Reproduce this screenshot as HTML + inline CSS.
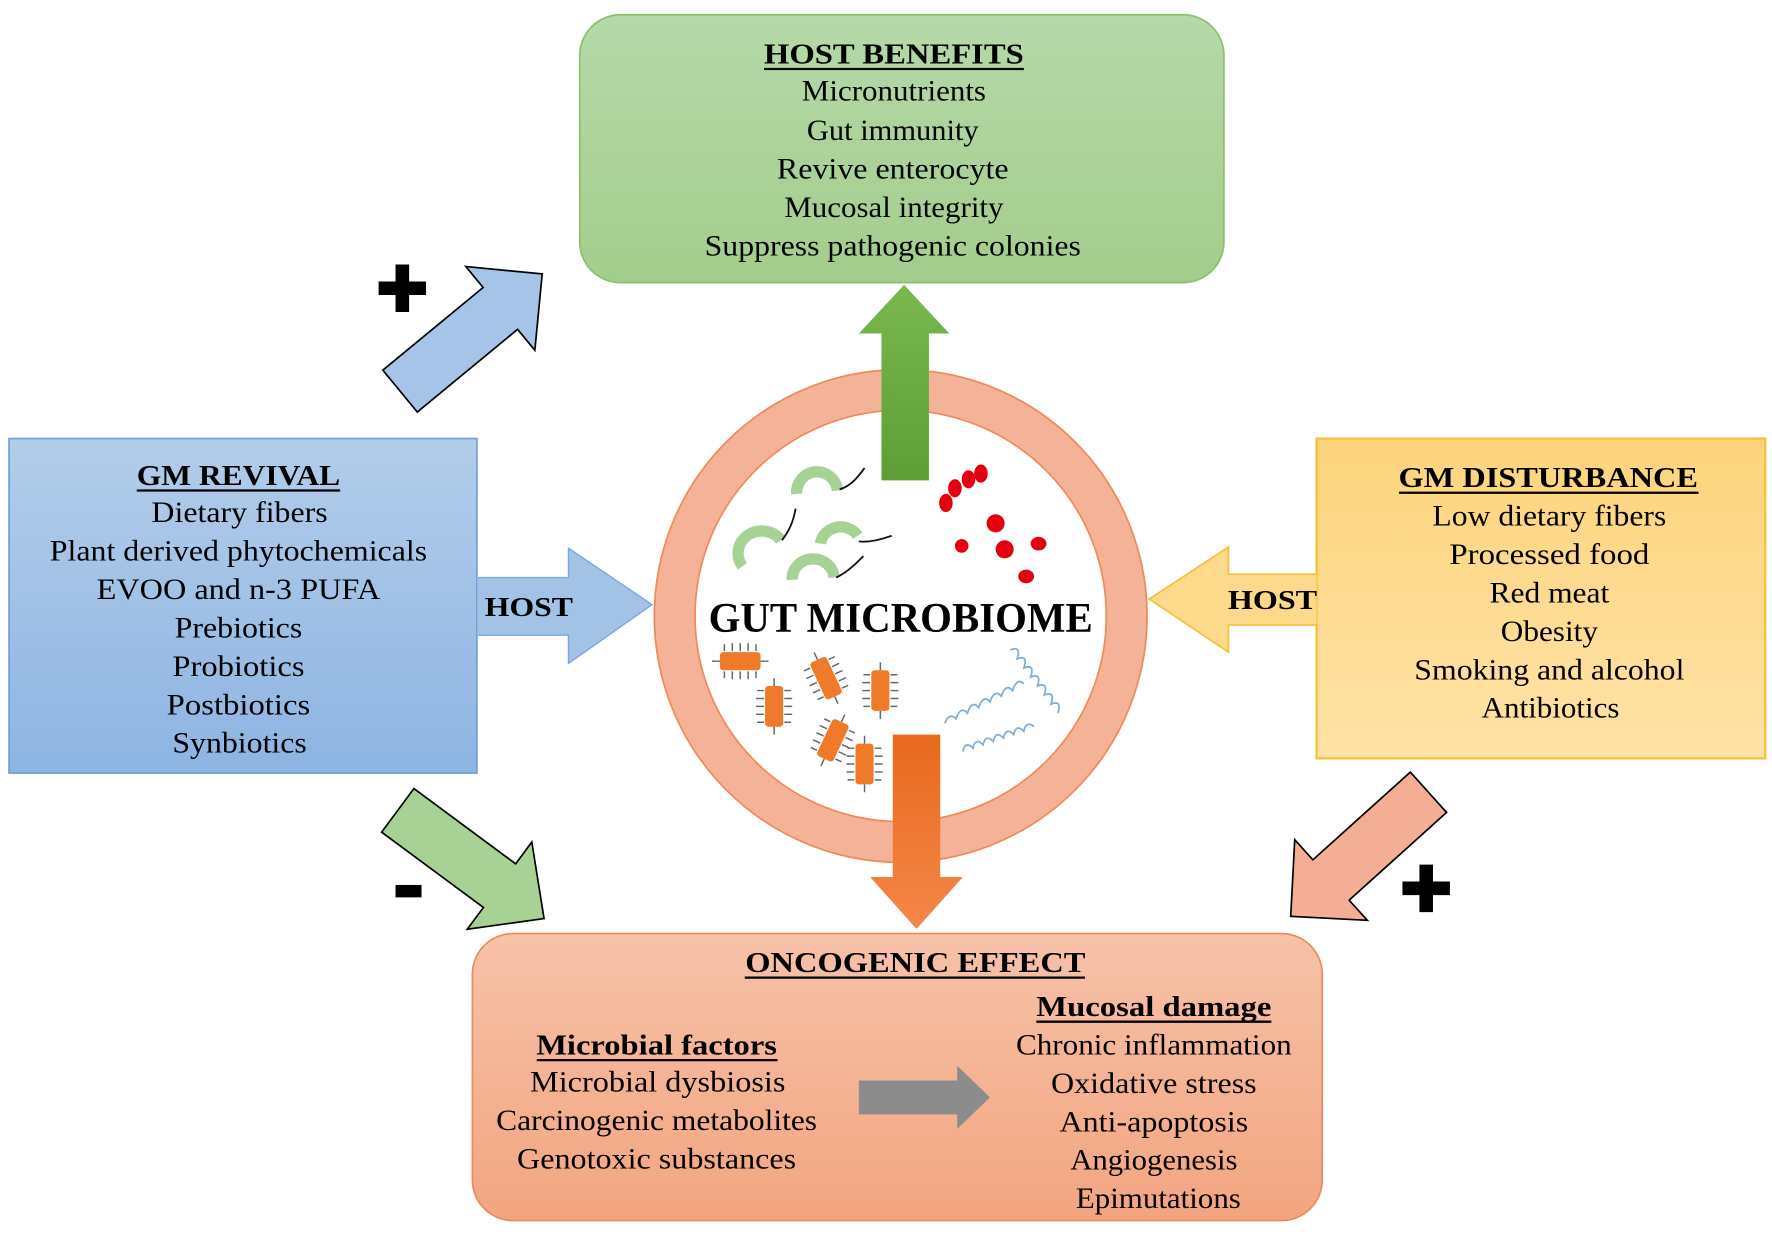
<!DOCTYPE html>
<html><head><meta charset="utf-8"><style>
html,body{margin:0;padding:0;background:#fff;}
svg{display:block;}
text{font-family:"Liberation Serif",serif;fill:#000;}
</style></head><body>
<svg width="1772" height="1241" viewBox="0 0 1568 1098" xmlns="http://www.w3.org/2000/svg">
<defs>
<linearGradient id="gG" x1="0" y1="0" x2="0" y2="1"><stop offset="0" stop-color="#b6d9a9"/><stop offset="1" stop-color="#a3cd8c"/></linearGradient>
<linearGradient id="gB" x1="0" y1="0" x2="0" y2="1"><stop offset="0" stop-color="#b3cdea"/><stop offset="1" stop-color="#8db4e2"/></linearGradient>
<linearGradient id="gY" x1="0" y1="0" x2="0" y2="1"><stop offset="0" stop-color="#fdd47c"/><stop offset="1" stop-color="#fee2a6"/></linearGradient>
<linearGradient id="gS" x1="0" y1="0" x2="0" y2="1"><stop offset="0" stop-color="#f7c2a9"/><stop offset="1" stop-color="#f2a57f"/></linearGradient>
<linearGradient id="gUp" x1="0" y1="1" x2="0" y2="0"><stop offset="0" stop-color="#5d9e36"/><stop offset="1" stop-color="#7ab84f"/></linearGradient>
<linearGradient id="gDn" x1="0" y1="0" x2="0" y2="1"><stop offset="0" stop-color="#e8691d"/><stop offset="1" stop-color="#f5874a"/></linearGradient>
<g id="rod">
<path d="M-14,-9 v-6 M-7,-9 v-7 M0,-9 v-7 M7,-9 v-7 M14,-9 v-6 M-14,9 v6 M-7,9 v7 M0,9 v7 M7,9 v7 M14,9 v6 M-18,0 h-7 M18,0 h7" stroke="#666" stroke-width="1.3"/>
<rect x="-18" y="-8" width="36" height="16" rx="3" fill="#ef7a2a"/>
</g>
</defs>

<!-- HOST BENEFITS box -->
<rect x="513" y="13" width="570" height="237" rx="36" fill="url(#gG)" stroke="#8cbf6c" stroke-width="1.5"/>
<text x="791" y="56" font-size="25" font-weight="bold" text-anchor="middle" textLength="230" lengthAdjust="spacingAndGlyphs">HOST BENEFITS</text>
<line x1="676" y1="61" x2="906" y2="61" stroke="#000" stroke-width="2"/>
<g font-size="26" text-anchor="middle">
<text x="791" y="89" textLength="163" lengthAdjust="spacingAndGlyphs">Micronutrients</text>
<text x="790" y="124" textLength="152" lengthAdjust="spacingAndGlyphs">Gut immunity</text>
<text x="790" y="158" textLength="205" lengthAdjust="spacingAndGlyphs">Revive enterocyte</text>
<text x="791" y="192" textLength="194" lengthAdjust="spacingAndGlyphs">Mucosal integrity</text>
<text x="790" y="226" textLength="333" lengthAdjust="spacingAndGlyphs">Suppress pathogenic colonies</text>
</g>

<!-- GM REVIVAL box -->
<rect x="8" y="388" width="414" height="296" fill="url(#gB)" stroke="#6e9fd6" stroke-width="1.5"/>
<text x="211" y="429" font-size="25" font-weight="bold" text-anchor="middle" textLength="180" lengthAdjust="spacingAndGlyphs">GM REVIVAL</text>
<line x1="121" y1="434" x2="301" y2="434" stroke="#000" stroke-width="2"/>
<g font-size="26" text-anchor="middle">
<text x="212" y="462" textLength="156" lengthAdjust="spacingAndGlyphs">Dietary fibers</text>
<text x="211" y="496" textLength="334" lengthAdjust="spacingAndGlyphs">Plant derived phytochemicals</text>
<text x="211" y="530" textLength="251" lengthAdjust="spacingAndGlyphs">EVOO and n-3 PUFA</text>
<text x="211" y="564" textLength="113" lengthAdjust="spacingAndGlyphs">Prebiotics</text>
<text x="211" y="598" textLength="117" lengthAdjust="spacingAndGlyphs">Probiotics</text>
<text x="211" y="632" textLength="127" lengthAdjust="spacingAndGlyphs">Postbiotics</text>
<text x="212" y="666" textLength="119" lengthAdjust="spacingAndGlyphs">Synbiotics</text>
</g>

<!-- HOST arrow right -->
<polygon points="423,511 503,511 503,485 577,535 503,587 503,562 423,562" fill="#a2c2e6"/>
<polyline points="423,511 503,511 503,485 577,535 503,587 503,562 423,562" fill="none" stroke="#7aa7db" stroke-width="1.2"/>
<text x="468" y="545" font-size="24" font-weight="bold" text-anchor="middle" textLength="78" lengthAdjust="spacingAndGlyphs">HOST</text>

<!-- GM DISTURBANCE box -->
<rect x="1165" y="388" width="397" height="283" fill="url(#gY)" stroke="#f2c23d" stroke-width="2"/>
<text x="1370" y="431" font-size="25" font-weight="bold" text-anchor="middle" textLength="265" lengthAdjust="spacingAndGlyphs">GM DISTURBANCE</text>
<line x1="1238" y1="436" x2="1503" y2="436" stroke="#000" stroke-width="2"/>
<g font-size="26" text-anchor="middle">
<text x="1371" y="465" textLength="207" lengthAdjust="spacingAndGlyphs">Low dietary fibers</text>
<text x="1371" y="499" textLength="177" lengthAdjust="spacingAndGlyphs">Processed food</text>
<text x="1371" y="533" textLength="106" lengthAdjust="spacingAndGlyphs">Red meat</text>
<text x="1371" y="567" textLength="86" lengthAdjust="spacingAndGlyphs">Obesity</text>
<text x="1371" y="601" textLength="239" lengthAdjust="spacingAndGlyphs">Smoking and alcohol</text>
<text x="1372" y="635" textLength="122" lengthAdjust="spacingAndGlyphs">Antibiotics</text>
</g>

<!-- HOST arrow left -->
<polygon points="1165,508 1087,508 1087,484 1017,530 1087,577 1087,553 1165,553" fill="#fdd98c"/>
<polyline points="1165,508 1087,508 1087,484 1017,530 1087,577 1087,553 1165,553" fill="none" stroke="#f2c23d" stroke-width="1.5"/>
<text x="1126" y="539" font-size="24" font-weight="bold" text-anchor="middle" textLength="79" lengthAdjust="spacingAndGlyphs">HOST</text>

<!-- Circle -->
<circle cx="797" cy="545" r="200" fill="none" stroke="#f4b398" stroke-width="36"/>
<circle cx="797" cy="545" r="218" fill="none" stroke="#ec8a5b" stroke-width="1.5"/>
<circle cx="797" cy="545" r="182" fill="#fff" stroke="#ec8a5b" stroke-width="1.5"/>

<!-- green bacteria -->
<g fill="none">
<g stroke="#a6d296" stroke-width="10">
<path d="M705,437 A18,18 0 0 1 741,434"/>
<path d="M726,481 A18,17 0 0 1 759,474"/>
<path d="M657,501 A18,17 0 0 1 691,478"/>
<path d="M701,513 A18,17 0 0 1 738,511"/>
</g>
<g stroke="#111" stroke-width="1.6">
<path d="M743,433 C752,430 758,424 765,414"/>
<path d="M760,479 C768,480 778,478 789,474"/>
<path d="M692,478 C698,470 702,462 704,450"/>
<path d="M740,511 C750,506 756,500 764,492"/>
</g>
</g>
<!-- red cocci -->
<g fill="#e5000f">
<ellipse cx="837" cy="445" rx="6" ry="8"/>
<ellipse cx="845" cy="432" rx="6" ry="8"/>
<ellipse cx="857" cy="424" rx="6" ry="8"/>
<ellipse cx="868" cy="419" rx="6" ry="8"/>
<ellipse cx="881" cy="463" rx="8" ry="8"/>
<ellipse cx="851" cy="483" rx="6" ry="6"/>
<ellipse cx="889" cy="486" rx="8" ry="8"/>
<ellipse cx="919" cy="481" rx="7" ry="6"/>
<ellipse cx="908" cy="510" rx="7" ry="6"/>
</g>
<!-- orange rods -->
<use href="#rod" transform="translate(655,585)"/>
<use href="#rod" transform="translate(685,625) rotate(90)"/>
<use href="#rod" transform="translate(731,600) rotate(65)"/>
<use href="#rod" transform="translate(779,611) rotate(90)"/>
<use href="#rod" transform="translate(737,655) rotate(-65)"/>
<use href="#rod" transform="translate(765,676) rotate(90)"/>
<!-- blue spirochetes -->
<g fill="none" stroke="#7fb0d8" stroke-width="1.6">
<path d="M836,640 q4,-10 10,-4 q4,-12 10,-5 q4,-12 10,-5 q4,-12 10,-5 q4,-12 10,-5 q4,-12 10,-5 q4,-12 10,-6"/>
<path d="M894,575 q10,-4 6,8 q10,-4 6,8 q10,-4 6,8 q10,-4 6,8 q10,-4 6,8 q10,-4 6,8 q10,-4 6,8"/>
<path d="M852,665 q2,-10 9,-3 q2,-10 9,-3 q2,-10 9,-3 q2,-10 9,-3 q2,-10 9,-3 q2,-10 9,-3 q2,-10 9,-4"/>
</g>

<text x="797" y="559" font-size="37" font-weight="bold" text-anchor="middle" textLength="340" lengthAdjust="spacingAndGlyphs">GUT MICROBIOME</text>

<!-- green up arrow -->
<polygon points="780,425 780,295 760,295 800,252 840,295 822,295 822,425" fill="url(#gUp)"/>
<!-- orange down arrow -->
<polygon points="790,650 790,776 770,776 811,822 852,776 832,776 832,650" fill="url(#gDn)"/>

<!-- diagonal arrows -->
<g transform="translate(354,346) rotate(-39.5)">
<polygon points="0,-24 115,-24 115,-48 163,0 115,48 115,24 0,24" fill="#a6c4e8" stroke="#000" stroke-width="1.5"/>
</g>
<g transform="translate(352,717) rotate(36.5)">
<polygon points="0,-24 112,-24 112,-48 161,0 112,48 112,24 0,24" fill="#a8d195" stroke="#000" stroke-width="1.5"/>
</g>
<g transform="translate(1264,701) rotate(138)">
<polygon points="0,-24 116,-24 116,-48 164,0 116,48 116,24 0,24" fill="#f4ae95" stroke="#000" stroke-width="1.5"/>
</g>

<!-- plus / minus -->
<path d="M350,234 h12 v15 h15 v12 h-15 v15 h-12 v-15 h-15 v-12 h15 z" fill="#000"/>
<path d="M1256,765 h12 v15 h15 v12 h-15 v15 h-12 v-15 h-15 v-12 h15 z" fill="#000"/>
<rect x="350" y="783" width="23" height="11" fill="#000"/>

<!-- ONCOGENIC box -->
<rect x="418" y="826" width="752" height="254" rx="36" fill="url(#gS)" stroke="#e98a5f" stroke-width="1.5"/>
<text x="810" y="860" font-size="25" font-weight="bold" text-anchor="middle" textLength="301" lengthAdjust="spacingAndGlyphs">ONCOGENIC EFFECT</text>
<line x1="659" y1="865" x2="960" y2="865" stroke="#000" stroke-width="2"/>
<text x="581" y="933" font-size="25" font-weight="bold" text-anchor="middle" textLength="213" lengthAdjust="spacingAndGlyphs">Microbial factors</text>
<line x1="475" y1="938" x2="688" y2="938" stroke="#000" stroke-width="2"/>
<text x="1021" y="899" font-size="25" font-weight="bold" text-anchor="middle" textLength="208" lengthAdjust="spacingAndGlyphs">Mucosal damage</text>
<line x1="917" y1="904" x2="1125" y2="904" stroke="#000" stroke-width="2"/>
<g font-size="26" text-anchor="middle">
<text x="582" y="966" textLength="226" lengthAdjust="spacingAndGlyphs">Microbial dysbiosis</text>
<text x="581" y="1000" textLength="284" lengthAdjust="spacingAndGlyphs">Carcinogenic metabolites</text>
<text x="581" y="1034" textLength="247" lengthAdjust="spacingAndGlyphs">Genotoxic substances</text>
<text x="1021" y="933" textLength="244" lengthAdjust="spacingAndGlyphs">Chronic inflammation</text>
<text x="1021" y="967" textLength="182" lengthAdjust="spacingAndGlyphs">Oxidative stress</text>
<text x="1021" y="1001" textLength="167" lengthAdjust="spacingAndGlyphs">Anti-apoptosis</text>
<text x="1021" y="1035" textLength="148" lengthAdjust="spacingAndGlyphs">Angiogenesis</text>
<text x="1025" y="1069" textLength="146" lengthAdjust="spacingAndGlyphs">Epimutations</text>
</g>
<polygon points="760,956 847,956 847,943 876,971 847,999 847,986 760,986" fill="#8c8c8c"/>
</svg>
</body></html>
